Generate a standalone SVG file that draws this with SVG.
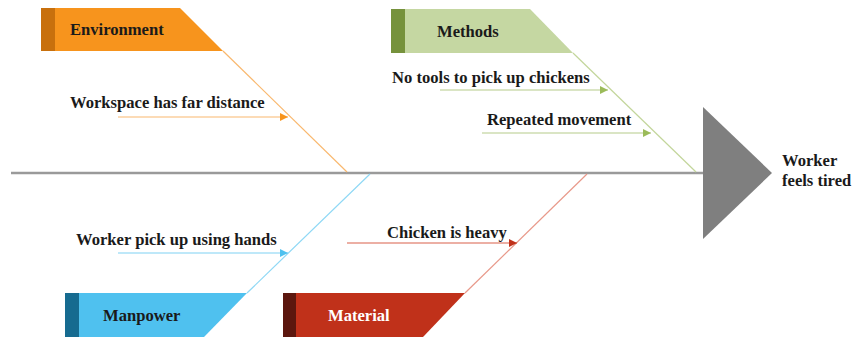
<svg xmlns="http://www.w3.org/2000/svg" width="852" height="338" viewBox="0 0 852 338">
  <defs>
    <marker id="ah-env" viewBox="0 0 10 10" refX="10" refY="5" markerWidth="10" markerHeight="8" markerUnits="userSpaceOnUse" orient="auto"><path d="M0,0 L10,5 L0,10 Z" fill="#f7941d"/></marker>
    <marker id="ah-met" viewBox="0 0 10 10" refX="10" refY="5" markerWidth="10" markerHeight="8" markerUnits="userSpaceOnUse" orient="auto"><path d="M0,0 L10,5 L0,10 Z" fill="#9bbb59"/></marker>
    <marker id="ah-man" viewBox="0 0 10 10" refX="10" refY="5" markerWidth="10" markerHeight="8" markerUnits="userSpaceOnUse" orient="auto"><path d="M0,0 L10,5 L0,10 Z" fill="#4fc1ef"/></marker>
    <marker id="ah-mat" viewBox="0 0 10 10" refX="10" refY="5" markerWidth="10" markerHeight="8" markerUnits="userSpaceOnUse" orient="auto"><path d="M0,0 L10,5 L0,10 Z" fill="#c0311a"/></marker>
  </defs>
  <style>
    text { font-family: "Liberation Serif", "Times New Roman", serif; font-weight: bold; font-size: 16.6px; fill: #1a1a1a; }
    .bone { fill: none; stroke-width: 1.2; }
    .cause { fill: none; stroke-width: 1.2; }
  </style>

  <rect width="852" height="338" fill="#ffffff"/>

  <!-- spine and head -->
  <g id="spine">
    <line x1="11" y1="173" x2="704" y2="173" stroke="#9a9a9a" stroke-width="2.5"/>
  </g>
  <g id="effect">
    <polygon points="703,107 772,173 703,239" fill="#7f7f7f"/>
    <text x="782" y="166">Worker</text>
    <text x="782" y="186">feels tired</text>
  </g>

  <!-- connectors: category bones and cause arrows -->
  <g id="connectors">
    <line class="bone" x1="223" y1="51" x2="347" y2="172" stroke="#f9b86e"/>
    <line class="bone" x1="573" y1="53" x2="696" y2="172" stroke="#c3d69b"/>
    <line class="bone" x1="247" y1="293" x2="370" y2="174" stroke="#8fd8f5"/>
    <line class="bone" x1="465" y1="293" x2="587" y2="174" stroke="#e8998a"/>

    <line class="cause" x1="118" y1="117" x2="288" y2="117" stroke="#f9b86e" marker-end="url(#ah-env)"/>
    <line class="cause" x1="440" y1="90" x2="608" y2="90" stroke="#b5cc8a" marker-end="url(#ah-met)"/>
    <line class="cause" x1="482" y1="133" x2="651" y2="133" stroke="#b5cc8a" marker-end="url(#ah-met)"/>
    <line class="cause" x1="118" y1="253" x2="288" y2="253" stroke="#7fd2f3" marker-end="url(#ah-man)"/>
    <line class="cause" x1="347" y1="243" x2="517" y2="243" stroke="#d9604a" marker-end="url(#ah-mat)"/>
  </g>

  <!-- category heads -->
  <g id="environment">
    <polygon points="41,8 180,8 223,51 41,51" fill="#f7941d"/>
    <rect x="41" y="8" width="14" height="43" fill="#c8700d"/>
    <text x="70" y="35">Environment</text>
  </g>
  <g id="methods">
    <polygon points="391,9 530,9 573,53 391,53" fill="#c5d7a2"/>
    <rect x="391" y="9" width="14" height="44" fill="#76923c"/>
    <text x="437" y="37">Methods</text>
  </g>
  <g id="manpower">
    <polygon points="65,293 247,293 204,337 65,337" fill="#4fc1ef"/>
    <rect x="65" y="293" width="14" height="44" fill="#166b90"/>
    <text x="103" y="321">Manpower</text>
  </g>
  <g id="material">
    <polygon points="283,293 465,293 423,337 283,337" fill="#c0311a"/>
    <rect x="283" y="293" width="13" height="44" fill="#5c170e"/>
    <text x="328" y="321" style="fill:#ffffff">Material</text>
  </g>

  <!-- cause labels -->
  <g id="cause-workspace"><text x="70" y="108">Workspace has far distance</text></g>
  <g id="cause-no-tools"><text x="392" y="83">No tools to pick up chickens</text></g>
  <g id="cause-repeated"><text x="487" y="125">Repeated movement</text></g>
  <g id="cause-hands"><text x="76" y="245">Worker pick up using hands</text></g>
  <g id="cause-heavy"><text x="387" y="238">Chicken is heavy</text></g>
</svg>
